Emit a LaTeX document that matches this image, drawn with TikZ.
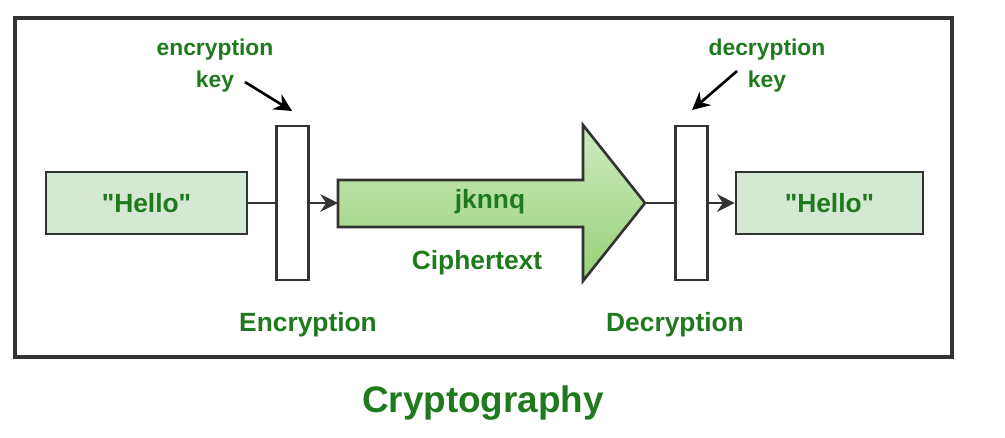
\documentclass[tikz,border=0pt]{standalone}
\usepackage{fontspec}
\setmainfont{Liberation Sans}[Ligatures=TeXOff]
\usetikzlibrary{arrows.meta, positioning}
\definecolor{CryptoGreen}{HTML}{1F7A1D}
\definecolor{PlainFill}{HTML}{D5E8D4}
\definecolor{CipherTop}{HTML}{CDEBC0}
\definecolor{CipherBottom}{HTML}{97D077}
\definecolor{EdgeGray}{HTML}{333333}

\begin{document}
\begin{tikzpicture}[x=0.02cm, y=-0.02cm,
    plainbox/.style={
      rectangle, draw=EdgeGray, line width=1.5pt, fill=PlainFill, minimum width=4.02cm,
      minimum height=1.24cm, inner sep=0pt, font=\fontsize{15}{18}\selectfont\bfseries,
      text=CryptoGreen
    },
    keybar/.style={rectangle, draw=EdgeGray, line width=1.5pt, fill=white,
      minimum width=0.64cm, minimum height=3.08cm, inner sep=0pt},
    lbl/.style={font=\fontsize{15}{18}\selectfont\bfseries, text=CryptoGreen},
    keylbl/.style={font=\fontsize{13}{16}\selectfont\bfseries, text=CryptoGreen, inner sep=2pt},
    flow/.style={draw=EdgeGray, line width=1.6pt},
    keyarrow/.style={-{Stealth[length=10pt, width=10pt]}, line width=1.5pt, black}
  ]
    \useasboundingbox (0,0) rectangle (1005,437);
    \draw[EdgeGray, line width=1.8pt] (15,18) rectangle (952,357);

    % plaintext in, encryption step
    \node[plainbox] (plain1) at (146.5,203) {"Hello"};
    \node[keybar] (encbar) at (292.5,203) {};
    \node[keylbl] (enctxt) at (215,50) {encryption};
    \node[keylbl] (enckey) at (215,82) {key};
    \coordinate (enctip) at (292,111);
    \node[lbl] (enclbl) at (308,325) {Encryption};

    % ciphertext arrow
    \coordinate (ctail) at (338,203);
    \coordinate (ctip) at (645,203);
    \draw[EdgeGray, line width=1.5pt, top color=CipherTop, bottom color=CipherBottom]
      (338,180) -- (583,180) -- (583,125) -- (645,203) -- (583,281) -- (583,227)
      -- (338,227) -- cycle;
    \node[lbl] (cipher) at (490,202) {jknnq};
    \node[lbl] (cipherlbl) at (477,263) {Ciphertext};

    % decryption step, plaintext out
    \node[keybar] (decbar) at (691.5,203) {};
    \node[keylbl] (dectxt) at (767,50) {decryption};
    \node[keylbl] (deckey) at (767,82) {key};
    \coordinate (dectip) at (692,110);
    \node[lbl] (declbl) at (675,325) {Decryption};
    \node[plainbox, minimum width=3.74cm] (plain2) at (829.5,203) {"Hello"};

    \draw[flow] (plain1.east) -- (encbar.west);
    \draw[flow, -{Stealth[length=10pt, width=10pt]}] (encbar.east) -- (ctail);
    \draw[flow] (ctip) -- (decbar.west);
    \draw[flow, -{Stealth[length=10pt, width=10pt]}] (decbar.east) -- (plain2.west);

    \draw[keyarrow] ([xshift=4pt]enckey.east) -- (enctip);
    \draw[keyarrow] ([xshift=-4pt,yshift=-2pt]deckey.north west) -- (dectip);

    \node[font=\fontsize{21}{25}\selectfont\bfseries, text=CryptoGreen] (title) at (483,403) {Cryptography};
  \end{tikzpicture}
\end{document}
